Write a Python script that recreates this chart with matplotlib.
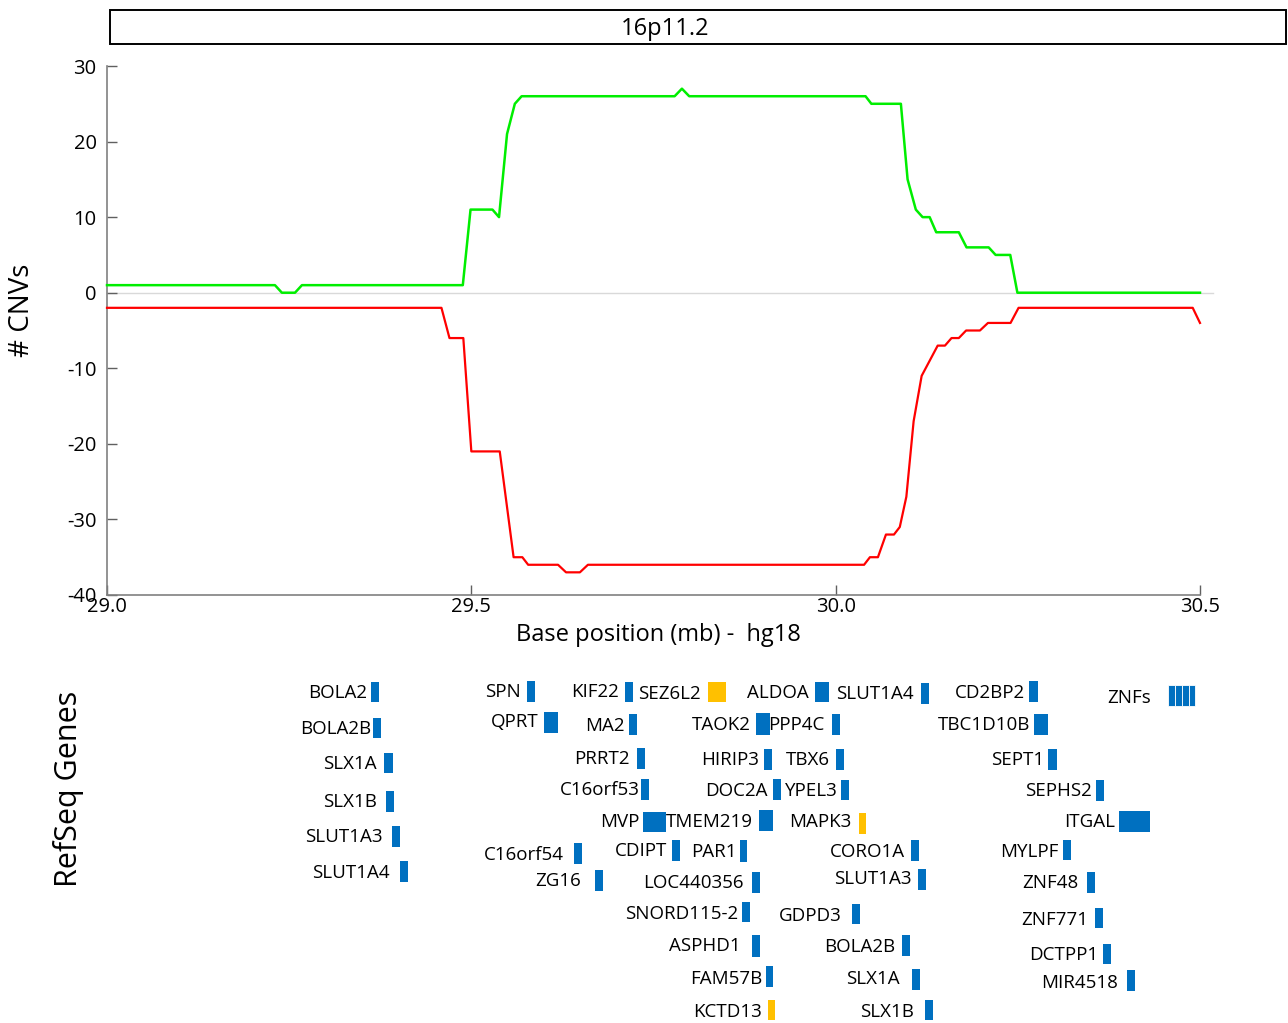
import matplotlib
matplotlib.use("Agg")
import matplotlib.pyplot as plt
from matplotlib.patches import Rectangle

plt.rcParams['font.family'] = ['Open Sans', 'DejaVu Sans']

# ---------------- data ----------------
title = "16p11.2"
gain_pos = [29.0, 29.2305, 29.240, 29.258, 29.2675, 29.4883, 29.4989, 29.529, 29.538,
            29.549, 29.5597, 29.569, 29.779, 29.789, 29.799, 30.041, 30.049, 30.0895,
            30.0987, 30.110, 30.1193, 30.129, 30.138, 30.169, 30.1796, 30.210, 30.2195,
            30.2396, 30.2494, 30.5]
gain_cnv = [1, 1, 0, 0, 1, 1, 11, 11, 10, 21, 25, 26, 26, 27, 26, 26, 25, 25,
            15, 11, 10, 10, 8, 8, 6, 6, 5, 5, 0, 0]
loss_pos = [29.0, 29.459, 29.470, 29.489, 29.500, 29.539, 29.558, 29.570, 29.578,
            29.619, 29.630, 29.649, 29.660, 30.039, 30.047, 30.058, 30.069, 30.080,
            30.088, 30.097, 30.107, 30.118, 30.140, 30.150, 30.159, 30.169, 30.179,
            30.198, 30.209, 30.240, 30.251, 30.490, 30.5]
loss_cnv = [-2, -2, -6, -6, -21, -21, -35, -35, -36, -36, -37, -37, -36, -36, -35,
            -35, -32, -32, -31, -27, -17, -11, -7, -7, -6, -6, -5, -5, -4, -4, -2,
            -2, -4]
y_ticks = [-40, -30, -20, -10, 0, 10, 20, 30]
x_ticks = [29.0, 29.5, 30.0, 30.5]
x_tick_labels = ["29.0", "29.5", "30.0", "30.5"]
x_label = "Base position (mb) -  hg18"
y_label = "# CNVs"
genes_label = "RefSeq Genes"

gene_names = ["BOLA2", "BOLA2B", "SLX1A", "SLX1B", "SLUT1A3", "SLUT1A4",
              "SPN", "QPRT", "KIF22", "MA2", "PRRT2", "C16orf53", "MVP", "C16orf54",
              "CDIPT", "ZG16", "SEZ6L2",
              "TAOK2", "HIRIP3", "DOC2A", "TMEM219", "PAR1", "LOC440356", "SNORD115-2",
              "ASPHD1", "FAM57B", "KCTD13",
              "ALDOA", "PPP4C", "TBX6", "YPEL3", "MAPK3", "CORO1A", "SLUT1A3", "GDPD3",
              "BOLA2B", "SLX1A", "SLX1B", "SLUT1A4",
              "CD2BP2", "TBC1D10B", "SEPT1", "SEPHS2", "ITGAL", "MYLPF", "ZNF48",
              "ZNF771", "DCTPP1", "MIR4518", "ZNFs"]
gene_kind = ["b"] * 16 + ["o"] + ["b"] * 9 + ["o"] + ["b"] * 4 + ["o"] + ["b"] * 7 + ["b"] * 11

# ---------------- layout (pixel positions of the gene track) ----------------
# (text right x, text centre y, box x0, box x1, box y0, box y1)
gene_layout = [
    (367, 691, 371, 379, 682, 702), (371, 727, 373, 381, 718, 738),
    (377, 762, 384.5, 393, 753, 773), (377, 800, 386, 394.5, 791, 811.5),
    (383, 835.5, 392.5, 400.5, 826, 846.5), (390, 871, 400, 408, 861, 882),
    (520.5, 690, 527.5, 535.5, 681, 702), (538.5, 720.5, 544, 558, 712, 732.5),
    (618.5, 690, 625, 633, 682, 702), (625, 724, 629, 637, 714, 735),
    (629.5, 757.5, 637, 645, 748, 769), (639.5, 788.5, 641, 649, 779, 800),
    (639.5, 820.5, 643.5, 666, 812, 832), (564, 853.5, 574, 582, 843, 864),
    (667, 849.5, 672, 680, 840, 861), (581.5, 879, 595, 603, 870, 891),
    (701, 692.5, 708.5, 726.5, 682, 702),
    (751, 723, 756.5, 770, 713, 735), (759, 758, 764.5, 772.5, 749, 770),
    (768, 789, 773.5, 781.5, 778.5, 800), (753, 820, 759.5, 773, 809.5, 830.5),
    (737, 850, 740, 747.5, 840, 861.5), (744, 881, 752, 760, 872, 892.5),
    (738, 912, 742.5, 750.5, 902, 922), (741, 944, 752, 760, 935, 956.5),
    (762, 977, 766, 773.5, 966, 986.5), (762, 1010, 768, 775.5, 999.5, 1020),
    (808.5, 691.5, 815, 829, 682, 702), (825, 723, 832, 840, 713.5, 735),
    (830, 758, 836, 844.5, 749, 770), (838, 789, 841, 849, 779.5, 800),
    (851, 820, 859, 866.5, 813, 834), (905, 850, 911, 919.5, 840, 861),
    (911.5, 877.5, 918.5, 926.5, 869, 890), (842, 914, 852, 860, 903.5, 924),
    (895, 945, 902, 910, 935, 956), (900, 977, 912, 920, 968.5, 989.5),
    (913.5, 1010, 925, 933.5, 999.5, 1020), (913.5, 692.5, 921, 929.5, 683, 703.5),
    (1025, 691.5, 1029.5, 1038, 681, 702), (1030.5, 723, 1034, 1048.5, 713.5, 735),
    (1044, 758, 1048.5, 1057, 749, 770), (1091.5, 789, 1096, 1104, 780, 800.5),
    (1115, 820, 1119.5, 1150.5, 811, 832), (1058.5, 850, 1063.5, 1071.5, 839.5, 860),
    (1078.5, 881.5, 1087.5, 1095.5, 872, 892.5), (1088.5, 918, 1095, 1103.5, 907.5, 928),
    (1098.5, 953, 1103.5, 1111.5, 943.5, 964), (1118.5, 981, 1127, 1135, 970, 990.5),
    (1151, 696.5, 1168, 1195.5, 685, 706),
]
kind_color = {"b": "#0070C0", "o": "#FFC000"}

W, H, DPI = 1288, 1023, 100
fig = plt.figure(figsize=(W / DPI, H / DPI), dpi=DPI)

# overlay in pixel coordinates
ov = fig.add_axes([0, 0, 1, 1])
ov.set_xlim(0, W)
ov.set_ylim(H, 0)
ov.axis("off")

# title box
ov.add_patch(Rectangle((110.5, 9.5), 1176, 34, fill=False, edgecolor="black", lw=1.4))
ov.text(665, 35, title, ha="center", va="baseline", fontsize=17)

# main plot
x0, x1, ytop, ybot = 107, 1200, 66, 595
ax = fig.add_axes([x0 / W, 1 - ybot / H, (x1 - x0) / W, (ybot - ytop) / H])
ax.set_xlim(29.0, 30.5)
ax.set_ylim(-40, 30)
ax.plot([29.0, 30.518], [0, 0], color="#d9d9d9", lw=1.0, clip_on=False, zorder=1)
ax.plot(gain_pos, gain_cnv, color="#00EE00", lw=1.8, zorder=3, clip_on=False)
ax.plot(loss_pos, loss_cnv, color="#FF0000", lw=1.6, zorder=3, clip_on=False)
for s in ["top", "right"]:
    ax.spines[s].set_visible(False)
for s in ["left", "bottom"]:
    ax.spines[s].set_color("#808080")
    ax.spines[s].set_linewidth(1.2)
ax.set_yticks(y_ticks)
ax.set_yticklabels([str(v) for v in y_ticks])
ax.set_xticks(x_ticks)
ax.set_xticklabels(x_tick_labels)
ax.tick_params(axis="y", direction="in", length=7.5, width=1.0, color="#606060",
               pad=7.5, labelsize=14.5)
ax.tick_params(axis="x", direction="in", length=7.5, width=1.0, color="#606060",
               pad=1.5, labelsize=14.5)
ax.patch.set_alpha(0)

fig.text(22 / W, 1 - 310 / H, y_label, rotation=90, ha="center", va="center", fontsize=20)
fig.text(658 / W, 1 - 635 / H, x_label, ha="center", va="center", fontsize=17)
fig.text(68 / W, 1 - 789 / H, genes_label, rotation=90, ha="center", va="center", fontsize=22)

# gene track
gfs = 13.5
cap_half = 0.357 * gfs * DPI / 72
for name, kind, (tx, ty, bx0, bx1, by0, by1) in zip(gene_names, gene_kind, gene_layout):
    ov.text(tx, ty + cap_half, name, ha="right", va="baseline", fontsize=gfs)
    col = kind_color[kind]
    if name == "ZNFs":
        n = 4
        w = (bx1 - bx0) / n
        for i in range(n):
            ov.add_patch(Rectangle((bx0 + i * w, by0), w, by1 - by0, facecolor=col,
                                   edgecolor="white", lw=0.6))
    else:
        ov.add_patch(Rectangle((bx0, by0), bx1 - bx0, by1 - by0, facecolor=col, lw=0))

fig.savefig("out.png", dpi=DPI)
